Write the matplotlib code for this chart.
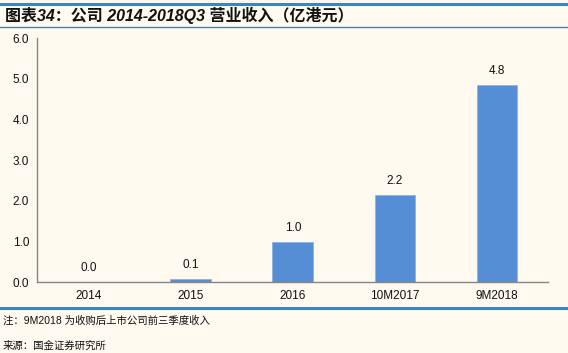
import matplotlib
matplotlib.use("Agg")
import matplotlib.pyplot as plt
from matplotlib.lines import Line2D

plt.rcParams['font.family'] = ['Liberation Sans', 'Noto Sans CJK SC', 'DejaVu Sans']

categories = ["2014", "2015", "2016", "10M2017", "9M2018"]
values = [0.01, 0.07, 0.98, 2.15, 4.85]
labels = ["0.0", "0.1", "1.0", "2.2", "4.8"]
yticks = [0.0, 1.0, 2.0, 3.0, 4.0, 5.0, 6.0]

bg = "#FFF9EF"
fig = plt.figure(figsize=(5.68, 3.53), dpi=100, facecolor=bg)
ax = fig.add_axes([0.066, 0.201, 0.899, 0.691], facecolor=bg)

x = list(range(len(categories)))
ax.bar(x, values, width=0.4, color="#558ED5", edgecolor="#8DB3E2", linewidth=0.6)
for xi, v, lab in zip(x, values, labels):
    ax.text(xi, v + 0.2, lab, ha="center", va="bottom", fontsize=8.5, color="#111111")

ax.set_xlim(-0.5, len(categories) - 0.5)
ax.set_ylim(0, 6)
ax.set_yticks(yticks)
ax.set_yticklabels([f"{t:.1f}" for t in yticks], fontsize=8.5)
ax.set_xticks(x)
ax.set_xticklabels(categories, fontsize=8.5)
ax.tick_params(axis="both", length=0, pad=6, colors="#111111")
for s in ["top", "right"]:
    ax.spines[s].set_visible(False)
for s in ["left", "bottom"]:
    ax.spines[s].set_color("#868686")
    ax.spines[s].set_linewidth(1.0)

blue = "#1E8FD5"
fig.add_artist(Line2D([0, 1], [1 - 3.5/353, 1 - 3.5/353], color=blue, linewidth=2.2, transform=fig.transFigure))
fig.add_artist(Line2D([0, 1], [1 - 27/353, 1 - 27/353], color=blue, linewidth=1.0, transform=fig.transFigure))
fig.add_artist(Line2D([0, 1], [1 - 308/353, 1 - 308/353], color=blue, linewidth=2.2, transform=fig.transFigure))

fig.text(5/568, 1 - 15/353, "图表34：公司 2014-2018Q3 营业收入（亿港元）", fontsize=11.5,
         fontweight="bold", style="italic", va="center", ha="left", color="#111111")
fig.text(3/568, 1 - 321/353, "注：9M2018 为收购后上市公司前三季度收入", fontsize=7.5,
         va="center", ha="left", color="#111111")
fig.text(3/568, 1 - 346/353, "来源：国金证券研究所", fontsize=7.5,
         va="center", ha="left", color="#111111")

fig.savefig("out.png", dpi=100, facecolor=bg)
